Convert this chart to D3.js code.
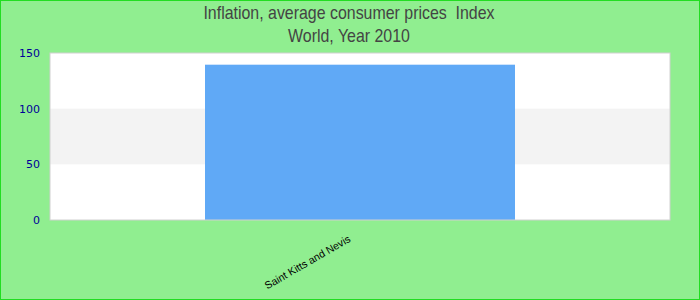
<!DOCTYPE html>
<html>
<head>
<meta charset="utf-8">
<script src="https://cdn.jsdelivr.net/npm/d3@7"></script>
<style>
  body { margin: 0; }
  svg { display: block; }
</style>
</head>
<body>
<svg width="700" height="300"></svg>
<script>
var categories = ["Saint Kitts and Nevis"];
var values = [139.5];
var yTicks = [0, 50, 100, 150];
var titleLines = ["Inflation, average consumer prices  Index", "World, Year 2010"];

var margin = {top: 53, right: 30, bottom: 80, left: 50},
    width = 700 - margin.left - margin.right,
    height = 300 - margin.top - margin.bottom;

var root = d3.select("svg");

root.append("rect")
    .attr("x", 0.5).attr("y", 0.5)
    .attr("width", 699).attr("height", 299)
    .attr("fill", "#90ee90")
    .attr("stroke", "#22dd22");

var svg = root.append("g")
    .attr("transform", "translate(" + margin.left + "," + margin.top + ")");

var x = d3.scaleBand()
    .domain(categories)
    .range([0, width])
    .paddingInner(0)
    .paddingOuter(0.5);

var y = d3.scaleLinear()
    .domain([0, 150])
    .range([height, 0]);

// background stripes
svg.append("rect")
    .attr("width", width).attr("height", height)
    .attr("fill", "#ffffff");
svg.selectAll(".band")
    .data(d3.pairs(yTicks).filter(function(d, i) { return i % 2 === 1; }))
    .enter()
    .append("rect")
        .attr("x", 0)
        .attr("y", function(d) { return y(d[1]); })
        .attr("width", width)
        .attr("height", function(d) { return y(d[0]) - y(d[1]); })
        .attr("fill", "#f3f3f3");

// Bars
svg.selectAll(".bar")
    .data(values)
    .enter()
    .append("rect")
        .attr("x", function(d, i) { return x(categories[i]); })
        .attr("y", function(d) { return y(d); })
        .attr("width", x.bandwidth())
        .attr("height", function(d) { return height - y(d); })
        .attr("fill", "#60a9f6");

svg.append("rect")
    .attr("width", width).attr("height", height)
    .attr("fill", "none")
    .attr("stroke", "#d0d0d0")
    .attr("stroke-width", 1);

// Y axis
var yAxis = svg.append("g")
    .call(d3.axisLeft(y).tickValues(yTicks).tickSize(0).tickPadding(10));
yAxis.select(".domain").remove();
yAxis.selectAll("text")
    .attr("fill", "#000099")
    .style("font-family", "DejaVu Sans")
    .style("font-size", "11px");

// X axis
var xAxis = svg.append("g")
    .attr("transform", "translate(0," + height + ")")
    .call(d3.axisBottom(x).tickSize(0));
xAxis.select(".domain").remove();
xAxis.selectAll("text")
    .attr("fill", "#000000")
    .style("font-family", "Liberation Sans")
    .style("font-size", "10.5px")
    .style("text-anchor", "end")
    .attr("transform", "translate(-14,12)rotate(-30)");

// Headlines (narrow look: horizontally squeezed)
var sx = 0.885;
root.selectAll(".title")
    .data(titleLines)
    .enter()
    .append("text")
        .attr("transform", "scale(" + sx + ",1)")
        .attr("x", 349 / sx)
        .attr("y", function(d, i) { return 19 + i * 23; })
        .attr("text-anchor", "middle")
        .attr("fill", "#444444")
        .style("font-family", "Liberation Sans")
        .style("font-size", "18px")
        .style("white-space", "pre")
        .text(function(d) { return d; });
</script>
</body>
</html>
